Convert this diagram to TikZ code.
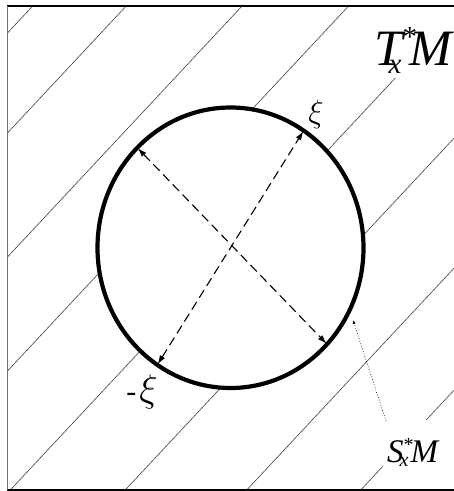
\documentclass[tikz,border=0pt]{standalone}
\usepackage{fontspec}
\usepackage{graphicx}
\newfontfamily\tms{Liberation Serif}
\usetikzlibrary{shapes.geometric,arrows.meta}
\tikzset{
 hatch/.style={line width=0.6pt, black!75},
 frameline/.style={line width=2pt, black},
 sideline/.style={line width=0.8pt, black!55},
 rim/.style={draw, ellipse, line width=4.2pt, fill=white, minimum width=266pt, minimum height=280.5pt, inner sep=0pt},
 vec/.style={line width=1.1pt, dash pattern=on 9pt off 5pt, {Latex[length=9pt,width=6pt]}-{Latex[length=9pt,width=6pt]}, shorten <=2.8pt, shorten >=2.8pt},
 pointer/.style={line width=0.7pt, dotted, -{Latex[length=4pt,width=3pt]}},
 mask/.style={fill=white},
 lbl/.style={inner sep=0pt, font=\tms\itshape},
 greek/.style={inner sep=0pt, font=\tms\fontsize{20}{20}\selectfont},
}
\newcommand\bigxi{\scalebox{1.55}{$\xi$}}
\begin{document}
\begin{tikzpicture}[x=1pt,y=-1pt]
\useasboundingbox (0,0) rectangle (454,491);
\begin{scope}
\clip (7,6) rectangle (454,490);
\foreach \c in {41,141,265,379,501,624,754,876}
  \draw[hatch] (0,\c) -- (470,{\c-502.9});
\end{scope}
\fill[mask] (370,8) rectangle (454,78);
\fill[mask] (383,420) rectangle (454,480);
\draw[frameline] (7,6) -- (454,6);
\draw[frameline] (7,490) -- (454,490);
\draw[sideline] (7,6) -- (7,490);
\node[rim] (C) at (230.5,247.75) {};
\draw[vec] (C.238.9) -- (C.58);
\draw[vec] (C.133.1) -- (C.-45.8);
\node[greek] (xi) at (316,114) {\bigxi};
\node[greek] (mxi) at (142,392) {\fontsize{30}{30}\selectfont-\kern3pt\bigxi};
\node[lbl, anchor=base west, font=\tms\itshape\fontsize{51}{51}\selectfont] (T) at (374,65)
  {T\rlap{\kern-14pt\raisebox{-8pt}{\fontsize{29}{29}\selectfont x}}\raisebox{19pt}{\fontsize{29}{29}\selectfont\upshape *}\kern-8pt M};
\node[lbl, anchor=base west, font=\tms\itshape\fontsize{33}{33}\selectfont] (S) at (387,462)
  {S\rlap{\kern-4pt\raisebox{-4pt}{\fontsize{20}{20}\selectfont x}}\raisebox{10.5pt}{\fontsize{20}{20}\selectfont\upshape *}\kern-3pt M};
\coordinate (ptail) at (386,421);
\coordinate (phead) at (353,320);
\draw[pointer] (ptail) -- (phead);
\end{tikzpicture}
\end{document}
